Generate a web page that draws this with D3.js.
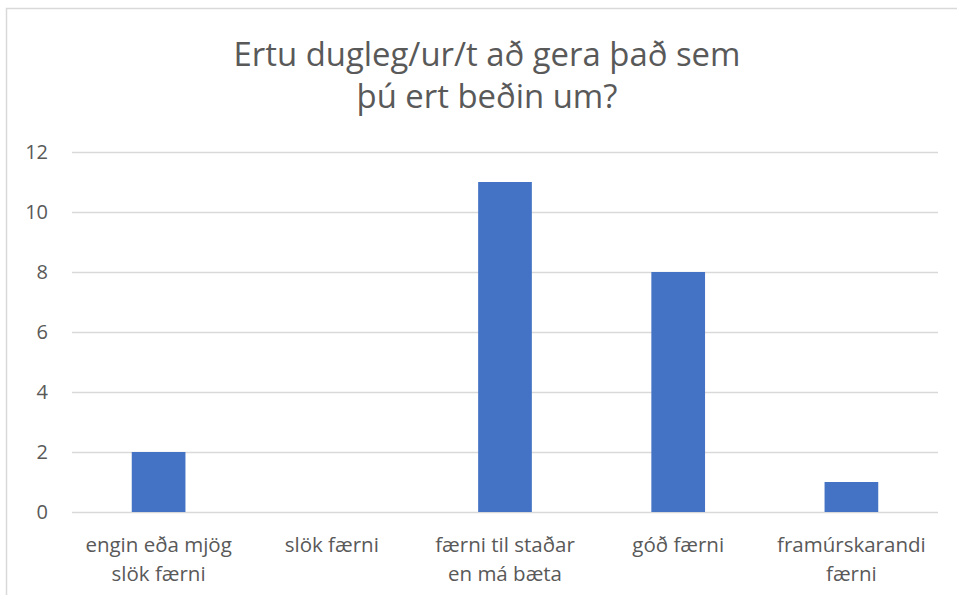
<!DOCTYPE html>
<html>
<head>
<meta charset="utf-8">
<script src="https://cdn.jsdelivr.net/npm/d3@7"></script>
<style>
  body { margin: 0; background: #fff; }
  text { font-family: "Open Sans", "Noto Sans", sans-serif; fill: #595959; }
</style>
</head>
<body>
<div id="chart"></div>
<script>
var categories = [
  ['engin eða mjög', 'slök færni'],
  ['slök færni'],
  ['færni til staðar', 'en má bæta'],
  ['góð færni'],
  ['framúrskarandi', 'færni']
];
var values = [2, 0, 11, 8, 1];
var yTicks = [0, 2, 4, 6, 8, 10, 12];
var titleLines = ['Ertu dugleg/ur/t að gera það sem', 'þú ert beðin um?'];

var width = 957, height = 595;
var plotLeft = 72, plotRight = 938, plotTop = 152, plotBottom = 512;
var barColor = '#4472c4', gridColor = '#d9d9d9';

var svg = d3.select('#chart').append('svg')
  .attr('width', width).attr('height', height);

// chart border
svg.append('rect')
  .attr('x', 6.5).attr('y', 8.5)
  .attr('width', width + 10).attr('height', height + 10)
  .attr('fill', 'none').attr('stroke', gridColor).attr('stroke-width', 1.5);

var x = d3.scaleBand()
  .domain(d3.range(categories.length))
  .range([plotLeft, plotRight])
  .paddingInner(0.69)
  .paddingOuter(0.345);

var y = d3.scaleLinear().domain([0, 12]).range([plotBottom, plotTop]);

// gridlines
svg.append('g')
  .selectAll('line')
  .data(yTicks)
  .enter().append('line')
  .attr('x1', plotLeft).attr('x2', plotRight)
  .attr('y1', function(d) { return y(d) + 0.5; })
  .attr('y2', function(d) { return y(d) + 0.5; })
  .attr('stroke', gridColor).attr('stroke-width', 1.3);

// y axis labels
svg.append('g')
  .selectAll('text')
  .data(yTicks)
  .enter().append('text')
  .attr('x', 48)
  .attr('y', function(d) { return y(d) + 7; })
  .attr('text-anchor', 'end')
  .attr('font-size', 20)
  .text(function(d) { return d; });

// bars
svg.append('g')
  .selectAll('rect')
  .data(values)
  .enter().append('rect')
  .attr('x', function(d, i) { return x(i); })
  .attr('width', x.bandwidth())
  .attr('y', function(d) { return y(d); })
  .attr('height', function(d) { return y(0) - y(d); })
  .attr('fill', barColor);

// category labels
var cat = svg.append('g')
  .selectAll('text')
  .data(categories)
  .enter().append('text')
  .attr('text-anchor', 'middle')
  .attr('font-size', 20.5)
  .attr('x', function(d, i) { return x(i) + x.bandwidth() / 2; });

cat.selectAll('tspan')
  .data(function(d) { return d; })
  .enter().append('tspan')
  .attr('x', function() { return d3.select(this.parentNode).attr('x'); })
  .attr('y', function(d, j) { return 552 + j * 29; })
  .text(function(d) { return d; });

// title, sized to fit the reference width
var title = svg.append('text')
  .attr('text-anchor', 'middle')
  .attr('font-size', 30);

title.selectAll('tspan')
  .data(titleLines)
  .enter().append('tspan')
  .attr('x', 487)
  .attr('y', function(d, i) { return 66 + i * 42; })
  .text(function(d) { return d; });

var w = title.select('tspan').node().getComputedTextLength();
title.attr('font-size', 30 * 507 / w);
</script>
</body>
</html>
